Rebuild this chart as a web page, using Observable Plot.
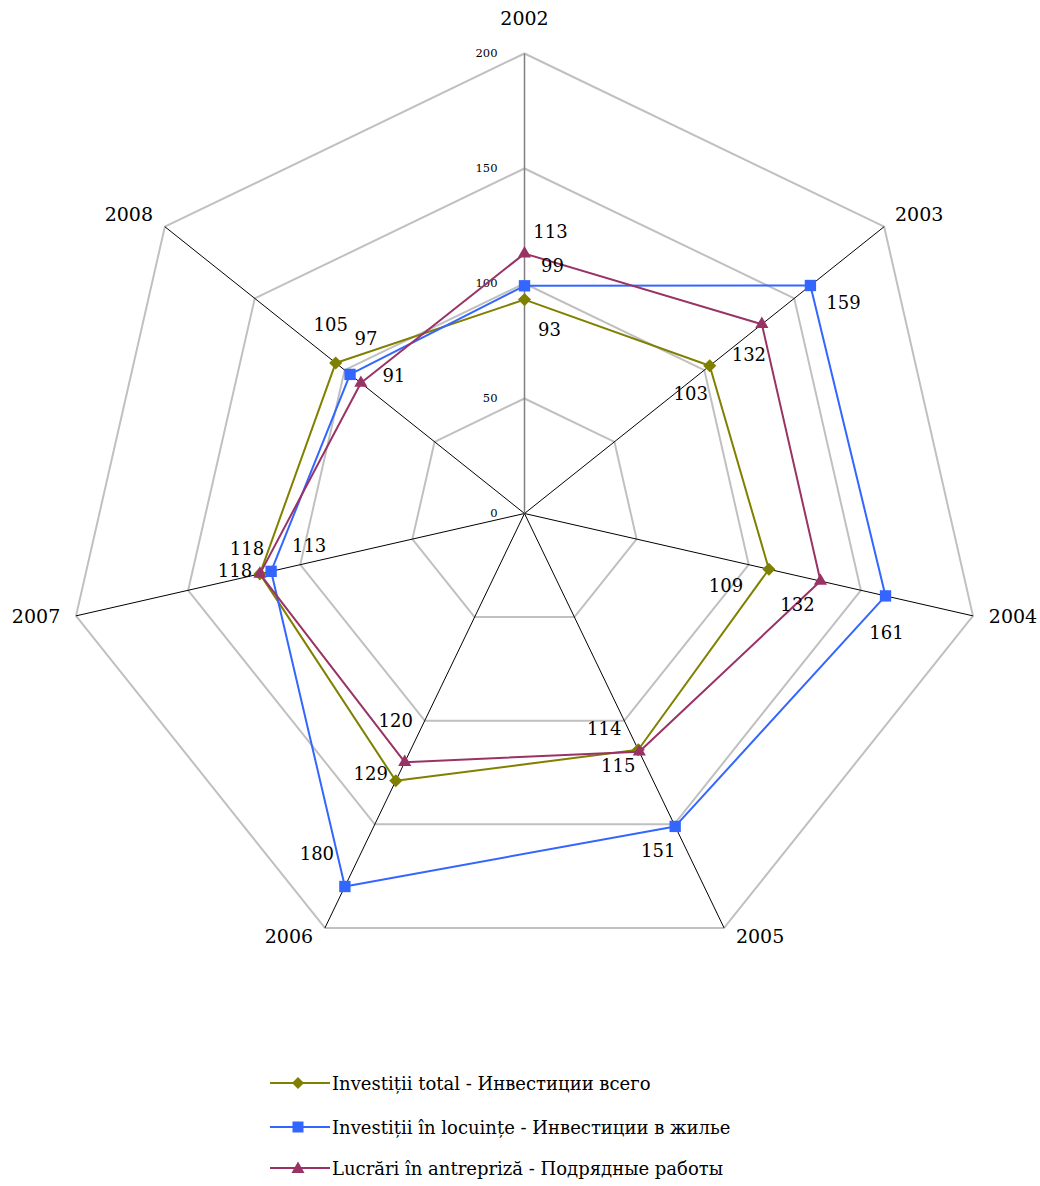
<!DOCTYPE html>
<html><head><meta charset="utf-8">
<script src="https://cdn.jsdelivr.net/npm/d3@7"></script>
<script src="https://cdn.jsdelivr.net/npm/@observablehq/plot@0.6"></script>
<style>
body{margin:0;background:#fff;font-family:"DejaVu Serif",serif;}
#wrap{position:relative;width:1040px;height:1186px;overflow:hidden;}
#chart{position:absolute;left:0;top:0;}
.lrow{position:absolute;left:268px;display:flex;align-items:center;height:24px;font-size:18px;letter-spacing:0px;color:#000;white-space:nowrap;}
.lrow svg{margin-right:1px;}
</style></head><body>
<div id="wrap"><div id="chart"></div><div id="legend"></div></div>
<script>
// ---- data ----
const years = ["2002", "2003", "2004", "2005", "2006", "2007", "2008"];
const seriesNames = [
  "Investiții total - Инвестиции всего",
  "Investiții în locuințe - Инвестиции в жилье",
  "Lucrări în antrepriză - Подрядные работы"
];
const total    = [93, 103, 109, 114, 129, 118, 105];
const locuinte = [99, 159, 161, 151, 180, 113, 97];
const lucrari  = [113, 132, 132, 115, 120, 118, 91];
const gridLevels = [50, 100, 150, 200];
const tickValues = [0, 50, 100, 150, 200];

// ---- styling / layout ----
const FONT = "'DejaVu Serif',serif";
const W = 1040, H = 1040, CX = 524, CY = 513, K = 2.3; // px per unit
const colors = ["#808000", "#3366ff", "#993366"];
const symbols = ["diamond2", "square", "triangle2"];
const radii = [5.9, 6.4, 6.3];
// label nudges in px (dx, dy) per series per axis
const labelNudge = [
  [[25, 31], [-19, 28], [-43, 17], [-34, -20], [-25, -7], [-13, -25], [-5, -38]],
  [[28, -20], [33, 18], [1, 37], [-17, 25], [-28, -32], [38, -25], [16, -35]],
  [[26, -21], [-13, 31], [-23, 24], [-21, 14], [-9, -41], [-25, -3], [33, -7]]
];
const axisNudge = [[0, -35], [35, -12], [40, 1], [36, 9], [-36, 9], [-40, 1], [-36, -12]];

const n = years.length;
const ang = i => i * 2 * Math.PI / n;
const px = (v, i) => v * Math.sin(ang(i));
const py = (v, i) => v * Math.cos(ang(i));

const seriesValues = [total, locuinte, lucrari];
const rows = seriesValues.flatMap((vals, si) => vals.map((v, i) => ({si, i, v, name: seriesNames[si]})));
const gridRows = gridLevels.flatMap(l => years.map((y, i) => ({l, i})));
const spokes = years.map((y, i) => ({i, y}));

const marks = [
  Plot.line(gridRows, {x: d => px(d.l, d.i), y: d => py(d.l, d.i), z: "l", curve: "linear-closed", stroke: "#c0c0c0", strokeWidth: 2}),
  Plot.link(spokes.filter(d => d.i !== 0), {x1: 0, y1: 0, x2: d => px(200, d.i), y2: d => py(200, d.i), stroke: "#000", strokeWidth: 1}),
  Plot.link(spokes.filter(d => d.i === 0), {x1: 0, y1: 0, x2: d => px(200, d.i), y2: d => py(200, d.i), stroke: "#808080", strokeWidth: 1.5}),
  Plot.text(tickValues, {x: 0, y: d => d, text: d => String(d), dx: -27, textAnchor: "end", fontSize: 11.5, fontFamily: FONT, fill: "#000"}),
  Plot.text(spokes, {x: d => px(200, d.i) + axisNudge[d.i][0] / K, y: d => py(200, d.i) - axisNudge[d.i][1] / K, text: "y", fontSize: 19, fontFamily: FONT, fill: "#000"})
];
seriesValues.forEach((vals, si) => {
  const data = rows.filter(d => d.si === si);
  marks.push(Plot.line(data, {x: d => px(d.v, d.i), y: d => py(d.v, d.i), curve: "linear-closed", stroke: colors[si], strokeWidth: 2}));
  marks.push(Plot.dot(data, {x: d => px(d.v, d.i), y: d => py(d.v, d.i), symbol: symbols[si], r: radii[si], fill: colors[si], stroke: "none"}));
});
marks.push(Plot.text(rows, {
  x: d => px(d.v, d.i) + labelNudge[d.si][d.i][0] / K,
  y: d => py(d.v, d.i) - labelNudge[d.si][d.i][1] / K,
  text: d => String(d.v), fontSize: 18, fontFamily: FONT, fill: "#000"
}));

const chart = Plot.plot({
  width: W, height: H, margin: 0,
  style: {fontFamily: FONT, background: "#fff"},
  x: {domain: [-CX / K, (W - CX) / K], axis: null},
  y: {domain: [-(H - CY) / K, CY / K], axis: null},
  marks
});
document.getElementById("chart").appendChild(chart);

// ---- legend ----
const legend = document.getElementById("legend");
const rowTops = [1071, 1115, 1156];
const sym = si => {
  const c = colors[si];
  if (si === 0) return `<polygon points="30,4 36,10 30,16 24,10" fill="${c}"/>`;
  if (si === 1) return `<rect x="24.5" y="4.5" width="11" height="11" fill="${c}"/>`;
  return `<polygon points="30,3.5 36.5,15 23.5,15" fill="${c}"/>`;
};
seriesNames.forEach((name, si) => {
  const row = document.createElement("div");
  row.className = "lrow";
  row.style.top = rowTops[si] + "px";
  row.innerHTML = `<svg width="63" height="20"><line x1="2" y1="10" x2="62" y2="10" stroke="${colors[si]}" stroke-width="2"/>${sym(si)}</svg><span>${name}</span>`;
  legend.appendChild(row);
});
</script>
</body></html>
